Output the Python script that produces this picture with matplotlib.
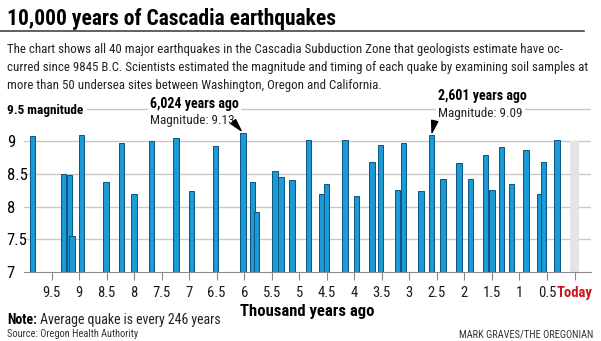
import matplotlib
matplotlib.use('Agg')
from matplotlib import pyplot as plt
from matplotlib import font_manager

# quake timing (thousand years ago) and estimated magnitude
years_ago = [9.85, 9.28, 9.18, 9.13, 8.96, 8.51, 8.23, 8.00, 7.69, 7.24,
             6.96, 6.52, 6.024, 5.85, 5.78, 5.44, 5.33, 5.13, 4.83, 4.60,
             4.51, 4.17, 3.96, 3.68, 3.52, 3.22, 3.10, 2.79, 2.601, 2.39,
             2.10, 1.89, 1.62, 1.50, 1.32, 1.15, 0.88, 0.63, 0.57, 0.32]
magnitude = [9.08, 8.50, 8.49, 7.55, 9.09, 8.37, 8.97, 8.19, 9.01, 9.05,
             8.24, 8.93, 9.13, 8.38, 7.91, 8.55, 8.45, 8.40, 9.02, 8.19,
             8.35, 9.02, 8.16, 8.68, 8.94, 8.25, 8.97, 8.24, 9.09, 8.42,
             8.66, 8.42, 8.79, 8.25, 8.91, 8.34, 8.87, 8.20, 8.69, 9.02]
today_mark = 9.0

x_ticks = [9.5, 9, 8.5, 8, 7.5, 7, 6.5, 6, 5.5, 5, 4.5, 4, 3.5, 3, 2.5, 2, 1.5, 1, 0.5, 0]
x_labels = ['9.5', '9', '8.5', '8', '7.5', '7', '6.5', '6', '5.5', '5', '4.5', '4',
            '3.5', '3', '2.5', '2', '1.5', '1', '0.5', 'Today']
y_ticks = [7, 7.5, 8, 8.5, 9, 9.5]
y_labels = ['7', '7.5', '8', '8.5', '9', '9.5 magnitude']

callouts = [(6.024, 9.13), (2.601, 9.09)]

names = {f.name for f in font_manager.fontManager.ttflist}
narrow = [f for f in ['Liberation Sans Narrow', 'DejaVu Sans Condensed', 'Roboto Condensed'] if f in names]
plt.rcParams['font.family'] = narrow + ['DejaVu Sans']

W, H = 601, 341
fig = plt.figure(figsize=(W / 100, H / 100), dpi=100)


def fx(x):
    return x / W


def fy(y):
    return 1 - y / H


ax = fig.add_axes([fx(24), fy(272), fx(590.5) - fx(24), fy(102) - fy(272)])

blue = '#1a9ad6'
edge = '#0b557f'
grid_c = '#c8c8c8'
ax.bar([0], [today_mark - 7], bottom=7, width=0.18, color='#e4e4e4', zorder=1)
ax.bar(years_ago, [m - 7 for m in magnitude], bottom=7, width=0.095,
       color=blue, edgecolor=edge, linewidth=0.7, zorder=2)

ax.set_xlim(10, -0.29)
ax.set_ylim(7, 9.6)

ax.set_xticks(x_ticks)
ax.set_xticklabels(x_labels, fontsize=10.5)
ax.tick_params(axis='x', length=6, color='#8a8a8a', pad=4, labelcolor='#1a1a1a')
today = ax.get_xticklabels()[-1]
today.set_color('#c8161d')
today.set_fontweight('bold')

ax.set_yticks(y_ticks)
ax.set_yticklabels(y_labels, fontsize=12)
ax.tick_params(axis='y', length=0, pad=12.5, gridOn=False)
for lab in ax.get_yticklabels():
    lab.set_horizontalalignment('left')
top_lab = ax.get_yticklabels()[-1]
top_lab.set_fontweight('bold')
top_lab.set_fontsize(9.5)

# gridlines; the top one starts after the "9.5 magnitude" label
for y in y_ticks[1:-1]:
    ax.axhline(y, color=grid_c, linewidth=1.0, zorder=0.6)
ax.plot([8.85, -0.29], [9.5, 9.5], color=grid_c, linewidth=1.0, zorder=0.6)
for s in ['top', 'right', 'left']:
    ax.spines[s].set_visible(False)
ax.spines['bottom'].set_color('#8a8a8a')

ax.set_xlabel('Thousand years ago', fontsize=12, fontweight='bold', labelpad=3)

# callouts for the two largest quakes
label_pos = [((7.71, 9.57), (7.71, 9.31), (6.20, 9.30)),
             ((2.48, 9.69), (2.48, 9.43), (2.54, 9.31))]
for (yr, mag), (head, sub, tail) in zip(callouts, label_pos):
    ax.text(head[0], head[1], f'{int(round(yr * 1000)):,} years ago', fontsize=10,
            fontweight='bold', ha='left', va='center', zorder=3,
            bbox=dict(facecolor='white', edgecolor='none', pad=1.5))
    ax.text(sub[0], sub[1], f'Magnitude: {mag:.2f}', fontsize=9.5, ha='left', va='center',
            color='#222222', zorder=3, bbox=dict(facecolor='white', edgecolor='none', pad=1.5))
    ax.annotate('', xy=(yr, mag), xytext=tail, zorder=4,
                arrowprops=dict(arrowstyle='wedge,tail_width=0.45', color='black',
                                shrinkA=0, shrinkB=2))

fig.text(fx(7), fy(19), '10,000 years of Cascadia earthquakes', fontsize=15.5,
         fontweight='bold', va='center', ha='left')
fig.add_artist(plt.Line2D([fx(0), fx(584)], [fy(31), fy(31)], color='#444444', linewidth=1.2))

intro = ['The chart shows all 40 major earthquakes in the Cascadia Subduction Zone that geologists estimate have oc-',
         'curred since 9845 B.C. Scientists estimated the magnitude and timing of each quake by examining soil samples at',
         'more than 50 undersea sites between Washington, Oregon and California.']
for i, line in enumerate(intro):
    fig.text(fx(7), fy(49 + i * 18), line, fontsize=9.3, va='center', ha='left', color='#222222')

note = fig.text(fx(7), fy(320), 'Note:', fontsize=10, fontweight='bold', va='center', ha='left')
ax.annotate(' Average quake is every 246 years', xy=(1, 0.5), xycoords=note, fontsize=10,
            va='center', ha='left', color='#222222', annotation_clip=False)
fig.text(fx(7), fy(334), 'Source: Oregon Health Authority', fontsize=7.5, va='center', ha='left',
         color='#333333')
fig.text(fx(593), fy(334), 'MARK GRAVES/THE OREGONIAN', fontsize=7.5, va='center', ha='right',
         color='#333333')

fig.savefig('out.png', dpi=100)
